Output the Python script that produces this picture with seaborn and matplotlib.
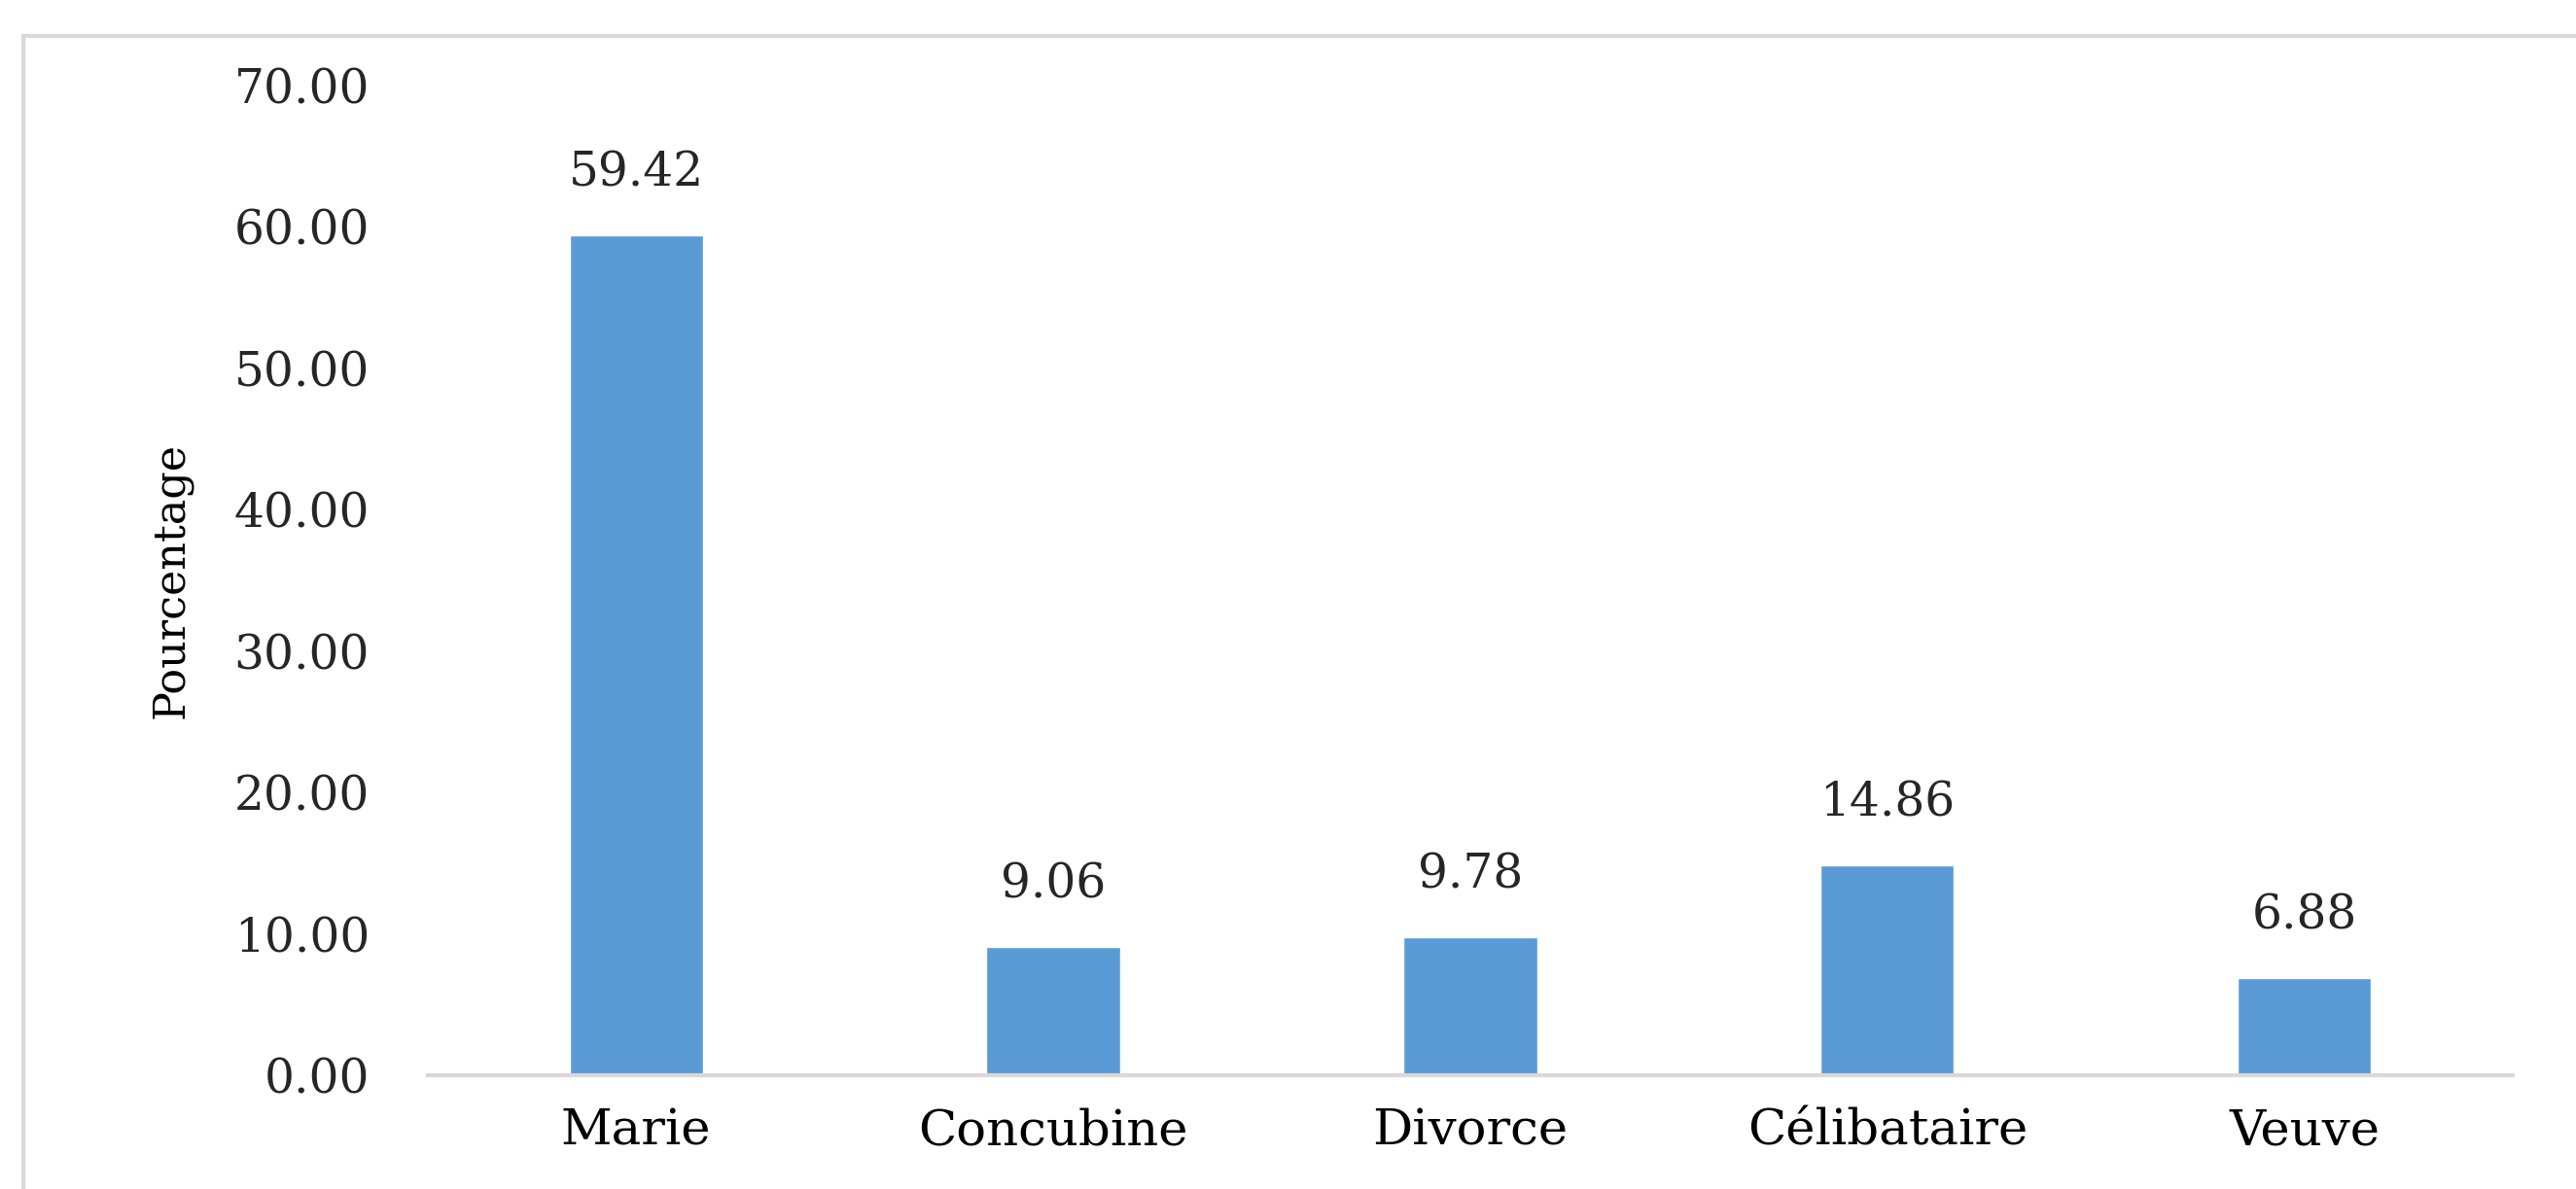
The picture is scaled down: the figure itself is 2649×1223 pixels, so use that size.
import matplotlib
matplotlib.use("Agg")
import matplotlib.pyplot as plt
import seaborn as sns
import pandas as pd

# data
categories = ["Marie", "Concubine", "Divorce", "Célibataire", "Veuve"]
percentages = [59.42, 9.06, 9.78, 14.86, 6.88]
y_ticks = [0, 10, 20, 30, 40, 50, 60, 70]

df = pd.DataFrame({"statut": categories, "pourcentage": percentages})

sns.set_style("white")
# the reference text is a wide serif, DejaVu Serif matches its extent best
plt.rcParams["font.family"] = ["DejaVu Serif", "Liberation Serif"]

fig = plt.figure(figsize=(26.49, 12.23), dpi=100)
ax = fig.add_axes([0.166, 0.0957, 0.8095, 0.8323])

sns.barplot(data=df, x="statut", y="pourcentage", color="#5B9BD5",
            width=0.32, saturation=1, ax=ax)

# value labels above each bar
for i in range(len(percentages)):
    ax.annotate("%.2f" % percentages[i], (i, percentages[i]),
                xytext=(0, 46), textcoords="offset points",
                ha="center", va="center", fontsize=35, color="#262626")

ax.set_ylim(0, 70)
ax.set_xlim(-0.5, len(categories) - 0.5)
ax.set_yticks(y_ticks)
ax.set_yticklabels(["%.2f" % t for t in y_ticks])
ax.tick_params(axis="y", labelsize=35, length=0, pad=43, colors="#262626")
ax.tick_params(axis="x", labelsize=37, length=0, pad=24, colors="#000000")
ax.set_xlabel("")
ax.set_ylabel("Pourcentage", fontsize=32, color="#000000")
ax.yaxis.set_label_coords(-0.113, 0.5)

for side in ["top", "right", "left"]:
    ax.spines[side].set_visible(False)
ax.spines["bottom"].set_color("#D9D9D9")
ax.spines["bottom"].set_linewidth(3)

# light frame of the chart area (cut off at right and bottom in the reference)
frame = plt.Rectangle((24 / 2649, -0.1), 1.2, 1 - 37 / 1223 + 0.1,
                      transform=fig.transFigure, fill=False,
                      edgecolor="#D9D9D9", linewidth=3)
fig.patches.append(frame)

fig.savefig("out.png", dpi=100, facecolor="white")
